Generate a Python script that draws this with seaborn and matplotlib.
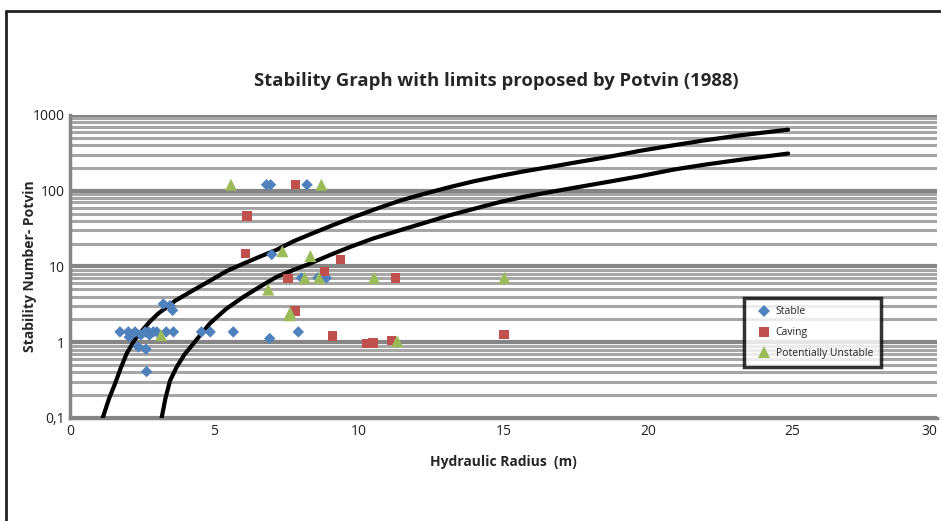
import numpy as np
import pandas as pd
import matplotlib
matplotlib.use('Agg')
import matplotlib.pyplot as plt
import matplotlib.ticker as mticker
from matplotlib.lines import Line2D
import seaborn as sns

# data
stable_x = [1.73, 2.02, 2.25, 2.6, 2.72, 2.88, 3.0, 3.33, 3.58, 4.55, 4.85, 5.65, 7.9,
            2.05, 2.45, 2.75, 2.36, 2.63, 2.65, 3.23, 3.46, 3.55, 6.91,
            6.98, 8.01, 8.58, 8.87, 6.8, 6.94, 8.2]
stable_y = [1.37, 1.37, 1.37, 1.37, 1.37, 1.37, 1.37, 1.37, 1.37, 1.37, 1.37, 1.37, 1.37,
            1.17, 1.25, 1.25, 0.87, 0.81, 0.41, 3.2, 3.05, 2.64, 1.12,
            14.4, 7.07, 7.07, 7.07, 120, 120, 120]
caving_x = [7.81, 6.13, 6.08, 9.36, 8.81, 7.55, 7.78, 9.08, 11.26, 10.25, 10.48, 11.12, 15.02]
caving_y = [120, 46.5, 14.8, 12.3, 8.6, 6.9, 2.57, 1.21, 7.07, 0.96, 0.98, 1.06, 1.26]
unstable_x = [5.57, 8.7, 7.35, 8.32, 8.12, 8.62, 6.86, 7.58, 7.62, 3.15, 10.52, 15.03, 11.32]
unstable_y = [120, 120, 15.9, 13.7, 7.07, 7.07, 4.96, 2.27, 2.45, 1.24, 7.07, 7.07, 1.03]

# limit curves
upper_x = [1.13, 1.35, 1.56, 1.75, 1.96, 2.22, 2.5, 2.78, 3.05, 3.65, 4.27, 4.85, 5.42, 6.0,
           6.57, 7.15, 7.73, 8.3, 9.0, 9.69, 10.5, 11.42, 12.3, 13.15, 14.0, 14.88,
           15.7, 16.6, 17.6, 18.57, 19.7, 20.88, 22.0, 23.18, 24.85]
upper_y = [0.1, 0.18, 0.285, 0.45, 0.71, 1.05, 1.44, 1.9, 2.39, 3.55, 4.87, 6.5, 8.7, 10.9,
           13.5, 16.6, 21.5, 26.5, 34, 43, 56, 74, 92, 112, 134, 157,
           180, 206, 240, 277, 335, 398, 465, 538, 640]
lower_x = [3.17, 3.3, 3.46, 3.69, 3.95, 4.27, 4.55, 4.84, 5.4, 6.0, 6.57, 7.15, 7.73,
           8.3, 9.0, 9.69, 10.5, 11.42, 12.3, 13.15, 14.0, 14.88, 15.7, 16.6, 17.6,
           18.57, 19.7, 20.88, 22.0, 23.18, 24.85]
lower_y = [0.1, 0.18, 0.31, 0.47, 0.68, 0.96, 1.3, 1.77, 2.75, 3.97, 5.4, 7.3, 9.0,
           10.9, 14.2, 18.1, 23.5, 30.1, 38, 47.6, 58, 71, 83, 96, 112,
           130, 155, 190, 222, 256, 310]

pts = pd.DataFrame({
    'hr': stable_x + caving_x + unstable_x,
    'n': stable_y + caving_y + unstable_y,
    'cls': ['Stable'] * len(stable_x) + ['Caving'] * len(caving_x)
           + ['Potentially Unstable'] * len(unstable_x),
})
order = ['Stable', 'Caving', 'Potentially Unstable']

sns.set_style('white')
plt.rcParams['font.family'] = ['Open Sans', 'DejaVu Sans']

fig = plt.figure(figsize=(9.41, 5.21), dpi=100)
ax = fig.add_axes([0.0744, 0.1977, 0.9213, 0.5816])

ax.set_yscale('log')
ax.set_xlim(0, 30)
ax.set_ylim(0.1, 1000)

# gridlines like the excel chart
ax.yaxis.set_minor_locator(mticker.LogLocator(base=10, subs=np.arange(2, 10)))
ax.grid(True, which='minor', axis='y', color='#a6a6a6', lw=2.2, zorder=0)
ax.grid(True, which='major', axis='y', color='#858585', lw=3, zorder=0)
ax.set_axisbelow(True)

sns.lineplot(x=upper_x, y=upper_y, ax=ax, color='black', lw=3, sort=False, zorder=3)
sns.lineplot(x=lower_x, y=lower_y, ax=ax, color='black', lw=3, sort=False, zorder=3)

sns.scatterplot(data=pts, x='hr', y='n', hue='cls', style='cls', size='cls', ax=ax,
                hue_order=order, style_order=order, size_order=order,
                palette=['#4f81bd', '#c0504d', '#9bbb59'],
                markers={'Stable': 'D', 'Caving': 's', 'Potentially Unstable': '^'},
                sizes={'Stable': 34, 'Caving': 46, 'Potentially Unstable': 75},
                linewidth=0, zorder=4)

ax.yaxis.set_major_locator(mticker.FixedLocator([0.1, 1, 10, 100, 1000]))
ax.yaxis.set_major_formatter(mticker.FixedFormatter(['0,1', '1', '10', '100', '1000']))
ax.yaxis.set_minor_formatter(mticker.NullFormatter())
ax.set_xticks(range(0, 31, 5))
ax.tick_params(axis='both', which='both', length=0, labelsize=10, colors='#222222', pad=4)
ax.get_xticklabels()[-1].set_horizontalalignment('right')

for side in ['top', 'right']:
    ax.spines[side].set_visible(False)
for side in ['left', 'bottom']:
    ax.spines[side].set_color('#858585')
    ax.spines[side].set_linewidth(2.5)

ax.set_xlabel('Hydraulic Radius  (m)', fontsize=10, fontweight='bold', labelpad=12)
ax.set_ylabel('Stability Number- Potvin', fontsize=10, fontweight='bold')
ax.yaxis.set_label_coords(-0.038, 0.5)
ax.set_title('Stability Graph with limits proposed by Potvin (1988)',
             fontsize=13.3, fontweight='bold', pad=21, x=0.492)

leg = ax.legend(loc='upper left', bbox_to_anchor=(0.778, 0.396), fontsize=7.5,
                frameon=True, fancybox=False, borderpad=0.8, handletextpad=0.0,
                labelspacing=0.95, handlelength=2.2, borderaxespad=0)
leg.get_frame().set_edgecolor('black')
leg.get_frame().set_linewidth(2.5)
leg.get_frame().set_facecolor('white')

# outer frame of the original chart area
fig.add_artist(Line2D([6 / 941, 1], [1 - 11 / 521, 1 - 11 / 521], color='#222222', lw=2))
fig.add_artist(Line2D([6 / 941, 6 / 941], [0, 1 - 11 / 521], color='#222222', lw=2))

fig.savefig('out.png', dpi=100)
